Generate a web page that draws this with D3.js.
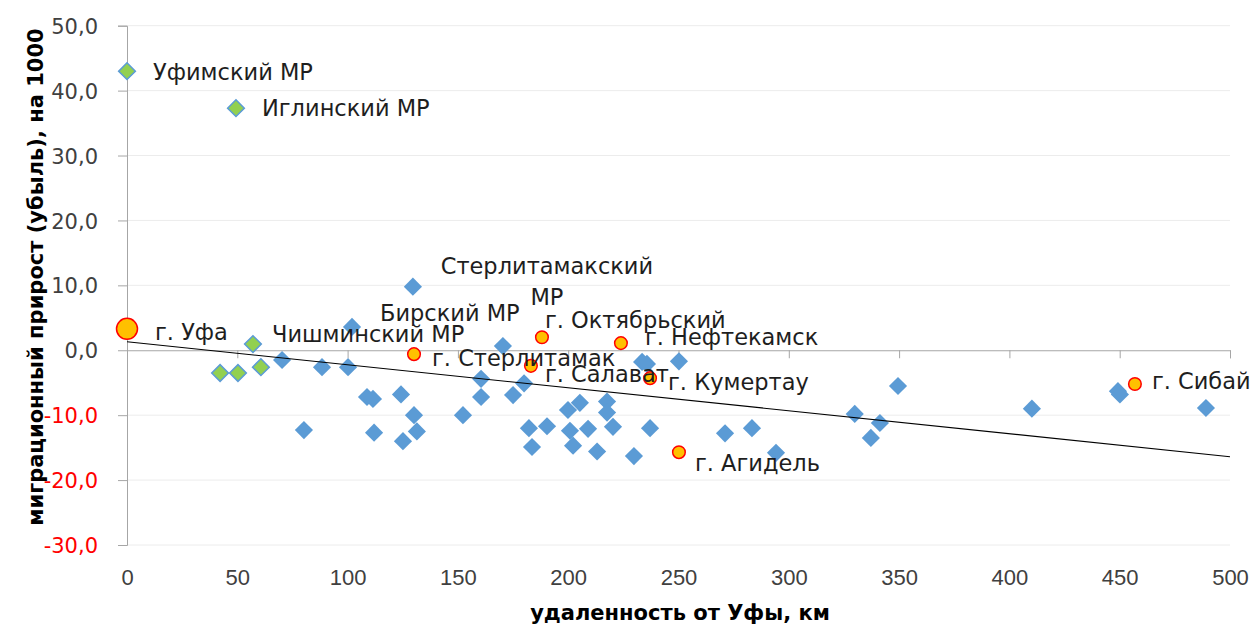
<!DOCTYPE html>
<html>
<head>
<meta charset="utf-8">
<script src="https://cdn.jsdelivr.net/npm/d3@7"></script>
<style>
  html, body { margin: 0; padding: 0; background: #fff; }
  svg { display: block; }
</style>
</head>
<body>
<svg id="chart" width="1258" height="625"></svg>
<script>
// Пригородные районы (зелёные ромбы)
const suburbKm   = [0, 49.4, 42.2, 50.3, 57.1, 60.7];
const suburbRate = [43.0, 37.3, -3.5, -3.5, 0.95, -2.6];
const suburbName = ["Уфимский МР", "Иглинский МР", "", "", "Чишминский МР", ""];

// Прочие муниципальные районы (синие ромбы)
const districtKm = [70.3, 88.4, 80.2, 100.2, 102.0, 108.8, 111.5, 112.0, 124.2, 125.1,
  129.6, 130.1, 131.4, 152.3, 160.5, 160.5, 170.4, 175.0, 180.0, 182.2,
  183.6, 190.4, 199.9, 200.8, 202.2, 205.3, 209.0, 213.1, 217.6, 217.6,
  220.3, 229.8, 233.5, 235.7, 237.1, 250.2, 271.1, 283.3, 294.2, 329.9,
  341.3, 337.2, 349.5, 410.2, 449.2, 450.1, 489.1];
const districtRate = [-1.5, -2.6, -12.3, -2.6, 3.6, -7.2, -7.5, -12.7, -6.8, -14.0,
  9.8, -10.0, -12.5, -10.0, -4.4, -7.2, 0.65, -6.9, -5.1, -12.0,
  -14.9, -11.7, -9.2, -12.4, -14.7, -8.1, -12.1, -15.6, -7.9, -9.6,
  -11.8, -16.3, -1.8, -2.1, -12.0, -1.7, -12.8, -12.0, -15.8, -9.8,
  -11.2, -13.5, -5.5, -9.0, -6.3, -6.8, -8.9];
const districtName = districtKm.map(() => "");
districtName[4] = "Бирский МР";
districtName[10] = "Стерлитамакский МР";

// Города (жёлтые круги)
const cityKm   = [0, 130.1, 188.1, 183.1, 223.9, 237.1, 250.2, 456.9];
const cityRate = [3.3, -0.6, 2.0, -2.4, 1.1, -4.3, -15.7, -5.2];
const cityName = ["г. Уфа", "г. Стерлитамак", "г. Октябрьский", "г. Салават",
  "г. Нефтекамск", "г. Кумертау", "г. Агидель", "г. Сибай"];

// Линейный тренд: значение при 0 км и при 500 км
const trendKm   = [0, 500];
const trendRate = [1.3, -16.4];

const xTicks = [0, 50, 100, 150, 200, 250, 300, 350, 400, 450, 500];
const yTicks = [-30, -20, -10, 0, 10, 20, 30, 40, 50];

const xTitle = "удаленность от Уфы, км";
const yTitle = "миграционный прирост (убыль), на 1000";

// Смещения подписей относительно точки: [dx, dy центра строки]
const labelOffset = {
  "Уфимский МР": [26, 1],
  "Иглинский МР": [26, 0],
  "Чишминский МР": [19, -10],
  "Бирский МР": [28, -14],
  "г. Уфа": [28, 3],
  "г. Стерлитамак": [18, 4],
  "г. Октябрьский": [3, -17],
  "г. Салават": [14, 8],
  "г. Нефтекамск": [24, -6],
  "г. Кумертау": [18, 4],
  "г. Агидель": [16, 11],
  "г. Сибай": [17, -3]
};

const svg = d3.select("#chart");
const plotLeft = 127, plotRight = 1230, plotTop = 25.7, plotBottom = 545;

const x = d3.scaleLinear().domain([0, 500]).range([plotLeft, plotRight]);
const y = d3.scaleLinear().domain([-30, 50]).range([plotBottom, plotTop]);

const labelFont = "'DejaVu Sans', sans-serif";

// Сетка
svg.append("g")
  .selectAll("line")
  .data(yTicks.filter(v => v !== 0))
  .join("line")
  .attr("x1", plotLeft).attr("x2", plotRight)
  .attr("y1", d => y(d)).attr("y2", d => y(d))
  .attr("stroke", "#ececec").attr("stroke-width", 1);

// Ось Y
const yAxis = svg.append("g")
  .attr("transform", `translate(${plotLeft},0)`)
  .call(d3.axisLeft(y).tickValues(yTicks).tickSize(9).tickPadding(6)
    .tickFormat(d => d3.format(".1f")(d).replace(".", ",").replace("\u2212", "-")));
yAxis.select(".domain").attr("stroke", "#a6a6a6");
yAxis.selectAll(".tick line").attr("stroke", "#a6a6a6");
yAxis.selectAll(".tick text")
  .attr("font-family", labelFont)
  .attr("font-size", 21)
  .attr("fill", d => d < 0 ? "#ff0000" : "#404040")
  .attr("dy", "0.36em")
  .attr("x", -29);

// Ось X (проходит через ноль), подписи — под областью построения
const xAxis = svg.append("g")
  .attr("transform", `translate(0,${y(0)})`)
  .call(d3.axisBottom(x).tickValues(xTicks).tickSize(8).tickFormat(d3.format("d")));
xAxis.select(".domain").attr("stroke", "#a6a6a6");
xAxis.selectAll(".tick line").attr("stroke", "#a6a6a6");
xAxis.selectAll(".tick text")
  .attr("font-family", "'Liberation Sans Narrow', 'Liberation Sans', sans-serif")
  .attr("font-size", 22)
  .attr("fill", "#404040")
  .attr("dy", 0)
  .attr("y", 585 - y(0));

// Маркеры
const diamond = d3.symbol(d3.symbolSquare).size(165);

const districts = districtKm.map((k, i) => ({ km: k, v: districtRate[i], name: districtName[i] }));
const suburbs = suburbKm.map((k, i) => ({ km: k, v: suburbRate[i], name: suburbName[i] }));
const cities = cityKm.map((k, i) => ({ km: k, v: cityRate[i], name: cityName[i] }));

svg.append("g").selectAll("path")
  .data(districts)
  .join("path")
  .attr("d", diamond)
  .attr("transform", d => `translate(${x(d.km)},${y(d.v)}) rotate(45)`)
  .attr("fill", "#5b9bd5");

svg.append("g").selectAll("path")
  .data(suburbs)
  .join("path")
  .attr("d", d3.symbol(d3.symbolSquare).size(140))
  .attr("transform", d => `translate(${x(d.km)},${y(d.v)}) rotate(45)`)
  .attr("fill", "#92d050")
  .attr("stroke", "#5b9bd5")
  .attr("stroke-width", 1.5);

svg.append("g").selectAll("circle")
  .data(cities)
  .join("circle")
  .attr("cx", d => x(d.km))
  .attr("cy", d => y(d.v))
  .attr("r", (d, i) => i === 0 ? 10.5 : 6.3)
  .attr("fill", "#ffc000")
  .attr("stroke", "#ff0000")
  .attr("stroke-width", 1.5);

// Линия тренда
svg.append("path")
  .datum(trendKm.map((k, i) => [k, trendRate[i]]))
  .attr("d", d3.line().x(d => x(d[0])).y(d => y(d[1])))
  .attr("fill", "none")
  .attr("stroke", "#000")
  .attr("stroke-width", 1.1);

// Подписи точек
const labelled = [...suburbs, ...districts, ...cities].filter(d => d.name);
const labels = svg.append("g")
  .attr("font-family", labelFont)
  .attr("font-size", 22.5)
  .attr("fill", "#1e1e1e");

labelled.forEach(d => {
  const px = x(d.km), py = y(d.v);
  if (d.name === "Стерлитамакский МР") {
    const t = labels.append("text").attr("text-anchor", "middle");
    t.append("tspan").attr("x", px + 134).attr("y", py - 21 + 8).text("Стерлитамакский");
    t.append("tspan").attr("x", px + 134).attr("y", py + 10 + 8).text("МР");
  } else {
    const o = labelOffset[d.name] || [18, 0];
    labels.append("text")
      .attr("x", px + o[0])
      .attr("y", py + o[1] + 8)
      .text(d.name);
  }
});

// Заголовки осей
svg.append("text")
  .attr("x", 680)
  .attr("y", 620)
  .attr("text-anchor", "middle")
  .attr("font-family", labelFont)
  .attr("font-weight", "bold")
  .attr("font-size", 21)
  .attr("fill", "#000")
  .text(xTitle);

svg.append("text")
  .attr("transform", `translate(43,277) rotate(-90)`)
  .attr("text-anchor", "middle")
  .attr("font-family", labelFont)
  .attr("font-weight", "bold")
  .attr("font-size", 21)
  .attr("fill", "#000")
  .text(yTitle);
</script>
</body>
</html>
